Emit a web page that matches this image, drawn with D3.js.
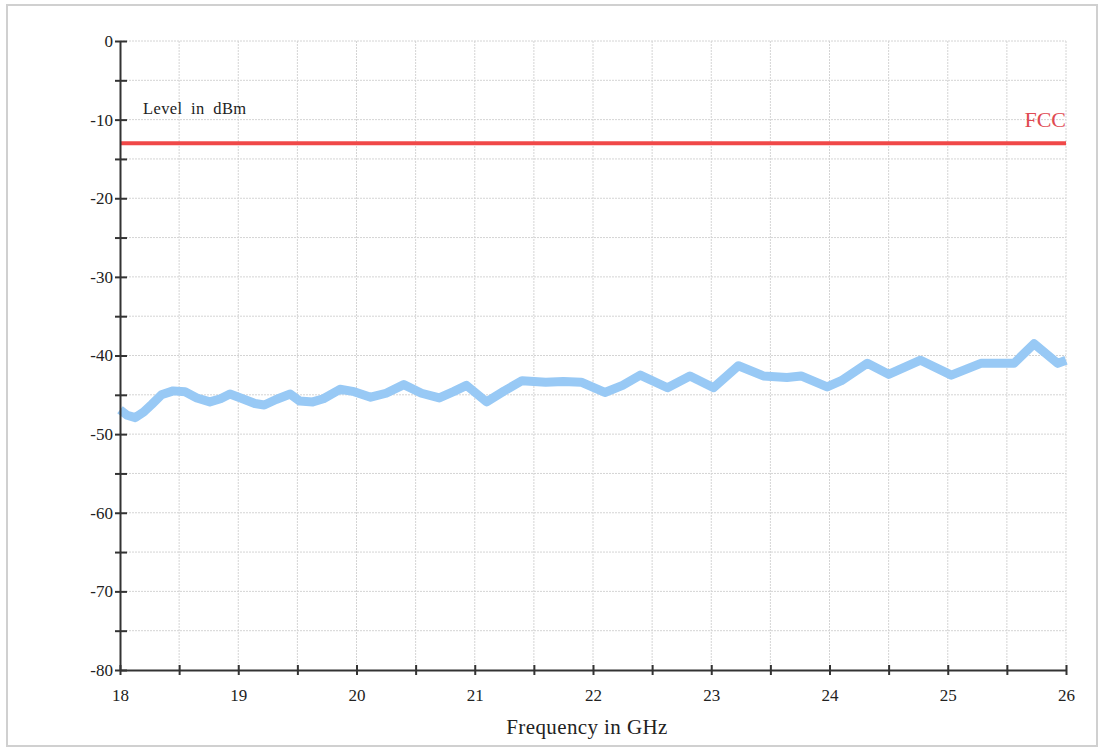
<!DOCTYPE html>
<html>
<head>
<meta charset="utf-8">
<script src="https://cdn.jsdelivr.net/npm/d3@7/dist/d3.min.js"></script>
<style>
  html, body { margin: 0; padding: 0; background: #fff; }
  svg { display: block; }
  text { font-family: "Liberation Serif", "DejaVu Serif", serif; fill: #222; }
</style>
</head>
<body>
<svg id="chart" width="1099" height="749"></svg>
<script>
// ---- data ----
const freqGHz = [18.00, 18.06, 18.13, 18.20, 18.27, 18.35, 18.45, 18.55, 18.65, 18.76,
  18.85, 18.93, 19.02, 19.14, 19.22, 19.32, 19.44, 19.52, 19.63, 19.72,
  19.86, 19.98, 20.12, 20.25, 20.40, 20.55, 20.70, 20.82, 20.93, 21.10,
  21.25, 21.40, 21.60, 21.75, 21.90, 22.10, 22.25, 22.40, 22.63, 22.82,
  23.02, 23.23, 23.44, 23.64, 23.76, 23.98, 24.10, 24.32, 24.50, 24.77,
  25.03, 25.28, 25.56, 25.73, 25.93, 26.00];
const levelDBm = [-46.9, -47.6, -47.9, -47.2, -46.2, -45.0, -44.5, -44.6, -45.4, -45.9,
  -45.5, -44.9, -45.4, -46.1, -46.3, -45.6, -44.9, -45.8, -45.9, -45.5,
  -44.3, -44.6, -45.3, -44.8, -43.7, -44.8, -45.4, -44.6, -43.8, -45.9,
  -44.5, -43.2, -43.4, -43.3, -43.4, -44.7, -43.8, -42.5, -44.1, -42.6,
  -44.1, -41.3, -42.6, -42.8, -42.6, -44.0, -43.2, -41.0, -42.4, -40.6,
  -42.5, -41.0, -41.0, -38.5, -41.0, -40.6];
const limitName = "FCC";
const limitLevel = -13;
const xTicks = [18, 19, 20, 21, 22, 23, 24, 25, 26];
const yTicks = [0, -10, -20, -30, -40, -50, -60, -70, -80];
const xMinor = [18.5, 19.5, 20.5, 21.5, 22.5, 23.5, 24.5, 25.5];
const yMinor = [-5, -15, -25, -35, -45, -55, -65, -75];
const yLabel = "Level in dBm";
const xLabel = "Frequency in GHz";

// ---- layout ----
const svg = d3.select("#chart");
const mLeft = 120, mRight = 1066, mTop = 41, mBottom = 670;

const x = d3.scaleLinear().domain([18, 26]).range([mLeft, mRight]);
const y = d3.scaleLinear().domain([-80, 0]).range([mBottom, mTop]);

// outer frame
svg.append("rect").attr("x", 7).attr("y", 5).attr("width", 1090).attr("height", 741)
  .attr("fill", "none").attr("stroke", "#d0d0d0").attr("stroke-width", 2);

// grid
const grid = svg.append("g");
grid.selectAll("line.v").data(xTicks.concat(xMinor).filter(d => d > 18)).join("line")
  .attr("x1", d => x(d)).attr("x2", d => x(d)).attr("y1", mTop).attr("y2", mBottom)
  .attr("stroke", "#d4d4d4").attr("stroke-width", 1).attr("stroke-dasharray", "2,1");
grid.selectAll("line.h").data(yTicks.concat(yMinor).filter(d => d > -80)).join("line")
  .attr("x1", mLeft).attr("x2", mRight).attr("y1", d => y(d)).attr("y2", d => y(d))
  .attr("stroke", "#d4d4d4").attr("stroke-width", 1).attr("stroke-dasharray", "2,1");

// trace
const line = d3.line().x((d, i) => x(freqGHz[i])).y(d => y(d)).curve(d3.curveLinear);
svg.append("path").datum(levelDBm).attr("d", line)
  .attr("fill", "none").attr("stroke", "#98c9f5").attr("stroke-width", 9)
  .attr("stroke-linejoin", "round").attr("stroke-linecap", "butt");

// limit line
svg.append("line").attr("x1", x(18)).attr("x2", x(26))
  .attr("y1", y(limitLevel)).attr("y2", y(limitLevel))
  .attr("stroke", "#f04848").attr("stroke-width", 4);
svg.append("text").attr("x", x(26)).attr("y", y(limitLevel) - 16)
  .attr("text-anchor", "end").style("font-size", "22px").style("fill", "#e04a52")
  .text(limitName);

// axes
const xAxis = d3.axisBottom(x).tickValues(xTicks.concat(xMinor)).tickSize(0)
  .tickFormat(d => xTicks.includes(d) ? d3.format("d")(d) : "");
const gx = svg.append("g").attr("transform", `translate(0,${mBottom})`).call(xAxis);
gx.attr("font-family", null).attr("font-size", null);
gx.select(".domain").attr("stroke", "#333").attr("stroke-width", 2);
gx.selectAll(".tick line").attr("y1", -5).attr("y2", 5).attr("stroke", "#333").attr("stroke-width", 2);
gx.selectAll(".tick text").attr("y", 19).style("font-size", "17px")
  .style("font-family", "'Liberation Serif', serif").style("fill", "#222");

const yAxis = d3.axisLeft(y).tickValues(yTicks.concat(yMinor)).tickSize(0)
  .tickFormat(d => yTicks.includes(d) ? String(d).replace("\u2212", "-") : "");
const gy = svg.append("g").attr("transform", `translate(${mLeft},0)`).call(yAxis);
gy.attr("font-family", null).attr("font-size", null);
gy.select(".domain").attr("stroke", "#333").attr("stroke-width", 2);
gy.selectAll(".tick line").attr("x1", -5).attr("x2", 7).attr("stroke", "#333").attr("stroke-width", 2);
gy.selectAll(".tick text").attr("x", -7).style("font-size", "17px")
  .style("font-family", "'Liberation Serif', serif").style("fill", "#222");

// axis labels
svg.append("text").attr("x", 143).attr("y", 114).style("font-size", "16.5px")
  .style("word-spacing", "4px").style("letter-spacing", "0.4px").text(yLabel);
svg.append("text").attr("x", 587).attr("y", 734)
  .attr("text-anchor", "middle").style("font-size", "21px")
  .style("letter-spacing", "0.4px").text(xLabel);
</script>
</body>
</html>
